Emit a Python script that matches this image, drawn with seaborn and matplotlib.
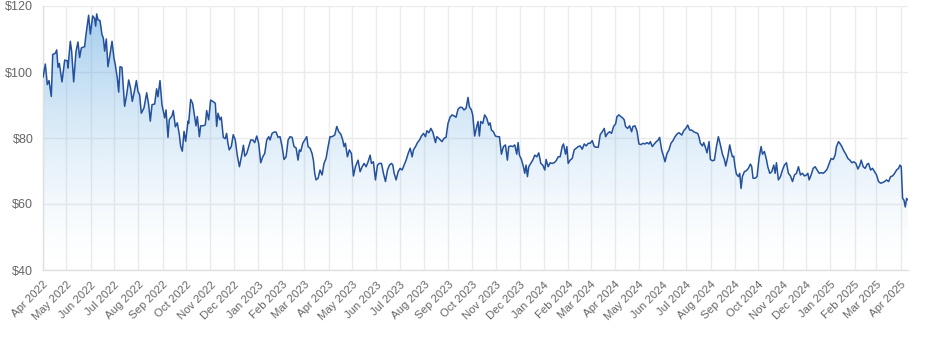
import numpy as np
import pandas as pd
import matplotlib
matplotlib.use("Agg")
import matplotlib.pyplot as plt
import matplotlib.dates as mdates
from matplotlib.ticker import FuncFormatter
import seaborn as sns

START = "2022-04-01"

# Days elapsed since START for each sampled close
days = [
    0, 3.0, 5.5, 7.7, 10.6, 12.4, 15.8, 17.5, 19.2, 20.9, 24.3, 27.7, 31.1, 31.9, 34.9, 36.6, 39.2, 42.2,
    44.7, 46.8, 49.0, 53.2, 54.9, 58.3, 60.5, 63.5, 66.0, 67.3, 68.6, 70.3, 72.8, 75.4, 77.1, 78.8, 80.9,
    83.0, 85.6, 88.2, 90.7, 92.4, 95.0, 96.7, 98.4, 100.9, 104.3, 106.9, 109.5, 112.0, 114.1, 116.7, 119.3,
    121.4, 123.5, 125.6, 129.0, 132.5, 135.0, 137.1, 139.3, 142.7, 145.2, 146.9, 149.5, 152.0, 155.5, 157.2,
    159.7, 161.4, 164.8, 166.5, 169.1, 171.6, 174.2, 175.9, 178.0, 180.2, 182.3, 185.3,
    186.1, 188.7, 191.2, 193.8, 195.5, 197.2, 199.8, 201.5, 204.9, 207.4, 209.1, 211.7, 214.2, 217.6, 220.2,
    221.9, 223.6, 226.1, 227.8, 230.4, 232.9, 234.6, 236.3, 238.0, 240.6, 243.1, 245.7, 248.2,
    251.0, 253.5, 256.1, 257.8, 260.3, 262.9, 265.4, 268.0, 270.5, 273.1, 275.6, 278.2, 280.8, 283.3, 285.9,
    288.4, 290.1, 292.7, 295.2, 297.8, 300.4, 302.9, 305.5, 308.0, 310.6, 313.2, 315.7, 318.3, 320.8, 323.4,
    325.9, 327.6, 329.3, 331.9, 334.5, 337.0, 338.7, 341.3, 343.8, 345.5, 347.2, 348.9, 351.5, 354.0, 356.6,
    359.1, 361.7, 364.3, 366.8, 369.4, 372.8, 375.4, 377.9, 380.5, 383.0, 384.7, 386.4, 389.0, 391.5, 394.1,
    396.7, 399.2, 402.6, 405.2, 407.8, 410.3, 412.9, 415.4, 418.0, 419.7, 422.2, 424.8, 427.4, 429.9, 432.5,
    435.0, 437.6, 440.2, 442.7, 445.3, 447.0, 448.7, 451.2, 453.8, 456.4, 458.9, 461.5, 464.0, 466.6, 469.2,
    471.7, 473.4, 476.0, 478.5, 481.1, 483.6, 486.2, 488.8, 490.5, 493.0, 495.6, 498.1, 501.5, 503.2, 505.8,
    509.8, 512.4, 515.0, 517.5, 520.1, 522.6, 525.2, 527.8, 530.3, 532.9, 535.4, 538.0, 540.6, 543.1, 544.8,
    547.4, 549.1, 551.6, 554.2, 555.9, 557.6, 559.3, 561.9, 564.4, 567.0, 569.6, 571.3, 573.0, 575.5, 578.1,
    580.6, 583.2, 585.8, 588.3, 590.9, 593.4, 595.1, 597.7, 600.3, 602.8, 605.4, 607.1, 608.8, 611.3, 613.9,
    615.6, 617.3, 619.0, 620.7, 623.3, 625.8, 628.4, 631.0, 633.5, 636.1, 638.6, 641.2, 642.9, 645.5, 648.0,
    650.6, 653.1, 655.7, 658.3, 660.8, 663.4, 665.1, 667.7, 669.4, 671.1, 673.6, 676.2, 678.8, 681.3, 683.9,
    686.4, 689.0, 691.6, 694.1, 696.7, 699.2, 701.8, 704.4, 706.9, 709.5, 712.0, 714.6, 717.2, 718.9, 721.4,
    724.0, 726.5, 729.1, 731.7, 733.4, 735.9, 738.5, 741.0, 742.7, 744.4, 747.0, 749.6, 752.1, 753.8, 756.4,
    758.9, 761.5, 764.1, 766.6, 769.2, 771.7, 774.3, 776.0, 778.6, 781.1, 783.7, 786.2, 787.9, 790.5, 793.1,
    794.8, 797.3, 799.9, 802.4, 805.0, 807.6, 810.1, 812.7,
    816.2, 818.7, 821.3, 823.8, 826.4, 829.0, 831.5, 834.1, 836.6, 838.3, 840.0, 842.6, 844.3, 846.8, 848.5,
    851.1, 852.8, 855.4, 857.9, 860.5, 863.0, 865.6, 868.2, 870.7, 872.4, 875.0, 877.5, 879.2, 880.9, 882.6,
    884.3, 886.0, 888.6, 890.3, 892.0, 893.7, 896.2, 898.8, 901.3, 903.9, 905.6, 907.3, 909.9, 912.4, 915.0,
    917.6, 919.3, 921.8, 924.4, 926.1, 928.7, 931.2, 933.8, 935.5, 937.2, 939.7, 942.3, 944.9, 947.4, 950.0,
    952.5, 955.1, 957.7, 960.2, 962.8, 965.3, 967.9, 970.5, 973.0, 975.6, 977.3, 979.0, 981.5, 984.1, 986.6,
    989.2, 991.8, 994.3, 996.9, 999.4, 1002.0, 1004.6, 1007.1, 1009.7, 1012.2, 1013.9, 1016.5, 1018.2, 1020.8,
    1023.3, 1025.9, 1028.5, 1031.0, 1033.6, 1036.1, 1038.7, 1041.3, 1043.8, 1045.5, 1048.1, 1050.6, 1053.2,
    1054.9, 1057.5, 1060.0, 1062.6, 1065.1, 1067.7, 1070.3, 1072.8, 1075.4, 1077.9, 1080.5, 1083.1, 1085.6,
    1088.2, 1090.7, 1093.3, 1095.0, 1096.7, 1098.4, 1100.1, 1101.8, 1103.5, 1105.2,
]

# Closing price in USD
prices = [
    98.4, 102.4, 96.2, 97.4, 92.6, 105.3, 105.7, 106.7, 101.4, 102.6, 97.0, 103.6, 103.4, 101.2, 109.3, 106.3, 97.0, 106.3,
    109.1, 104.4, 107.3, 107.7, 111.3, 117.2, 111.5, 117.0, 116.2, 113.9, 117.6, 115.8, 115.6, 111.3, 110.3, 106.3, 110.0,
    101.6, 105.3, 109.3, 104.2, 102.2, 98.0, 93.9, 101.6, 101.4, 89.6, 93.1, 97.6, 95.0, 91.1, 94.1, 97.4,
    94.1, 93.1, 87.5, 89.1, 93.7, 90.1, 85.1, 90.1, 90.3, 94.9, 92.5, 97.4, 90.1, 86.1, 88.5,
    80.2, 85.6, 86.7, 88.3, 83.4, 84.6, 81.0, 77.5, 76.0, 82.0, 79.0, 85.1,
    84.4, 91.7, 90.5, 86.5, 83.7, 86.5, 80.4, 83.7, 83.7, 84.0, 88.3, 85.5, 91.5, 91.0, 90.5,
    83.5, 87.5, 85.5, 86.3, 80.2, 79.8, 81.4, 78.4, 76.4, 77.4, 81.0, 79.4, 74.8,
    71.3, 74.3, 77.8, 74.5, 75.3, 77.4, 79.4, 79.4, 78.6, 80.6, 78.4, 72.5, 74.3, 75.3, 79.4,
    80.4, 79.4, 81.4, 81.8, 81.8, 80.2, 80.4, 77.4, 73.5, 74.3, 79.4, 80.4, 80.2, 77.4, 77.0,
    73.3, 76.4, 75.9, 78.4, 79.4, 80.4, 77.4, 76.9, 75.3, 73.3, 69.3, 67.3, 67.8, 70.3, 68.8,
    72.3, 73.8, 77.4, 80.4, 80.4, 80.9, 83.5, 81.9, 81.2, 79.4, 77.4, 78.4, 74.3, 76.4, 75.3,
    68.5, 71.3, 73.3, 69.8, 71.3, 72.3, 71.3, 72.8, 74.8, 72.3, 72.8, 67.3, 71.8, 72.3, 72.3,
    69.3, 66.8, 70.3, 71.8, 72.3, 71.8, 69.3, 67.3, 69.8, 70.8, 70.3, 71.8, 73.3, 75.3, 76.9,
    74.3, 76.4, 77.4, 78.6, 79.4, 80.6, 81.4, 80.4, 82.2, 81.6, 82.9, 81.8, 78.6, 80.4, 79.9,
    78.9, 79.9, 80.2, 84.4, 86.3, 87.0, 86.7, 86.3, 88.7, 89.3, 89.3, 88.5, 89.0, 92.3, 89.5,
    88.5, 87.0, 80.6, 83.5, 85.0, 80.6, 85.0, 84.4, 87.0, 86.0, 83.9, 84.6, 82.4, 81.9, 80.6,
    80.4, 80.4, 75.1, 77.4, 77.9, 73.3, 77.4, 77.6, 77.4, 77.9, 75.1, 78.6, 74.8, 73.5, 71.3,
    69.3, 71.8, 68.3, 71.3, 72.3, 73.3, 74.8, 74.3, 75.5, 72.3, 71.8, 70.3, 73.5, 71.3, 72.5,
    72.3, 72.5, 73.1, 74.3, 74.3, 77.4, 78.2, 75.1, 77.4, 72.3, 73.3, 73.8, 76.4, 76.9, 77.4,
    77.6, 76.6, 78.2, 77.6, 78.4, 78.4, 79.2, 77.4, 77.2, 77.2, 81.0, 81.9, 82.9, 80.4, 81.4,
    81.9, 81.4, 83.5, 84.3, 86.5, 87.0, 86.5, 86.0, 85.5, 83.5, 82.9, 83.7, 81.9, 83.5, 83.7,
    82.2, 78.2, 78.0, 78.4, 78.2, 78.6, 78.2, 78.9, 77.4, 78.2, 78.9, 79.4, 80.2, 76.4, 74.3,
    72.8, 75.3, 76.4, 78.4, 79.2, 80.4, 81.2, 81.6,
    80.9, 82.2, 82.9, 83.9, 82.4, 82.4, 81.9, 81.6, 81.4, 80.2, 78.4, 77.6, 78.6, 76.9, 75.5,
    78.9, 73.5, 73.1, 73.3, 77.4, 80.4, 77.9, 75.1, 73.5, 71.5, 74.3, 77.9, 75.9, 74.3, 74.5,
    71.3, 69.1, 68.3, 69.3, 64.7, 68.3, 69.8, 70.1, 70.8, 72.1, 71.3, 67.8, 67.8, 68.3, 73.9,
    77.4, 75.1, 75.9, 73.5, 71.3, 69.3, 69.8, 71.8, 69.3, 72.5, 67.3, 68.3, 70.3, 71.8, 72.5,
    69.3, 68.5, 66.8, 68.8, 69.3, 71.3, 68.8, 69.3, 68.5, 68.8, 69.3, 67.3, 68.8, 70.8, 71.3,
    70.3, 69.3, 69.5, 69.3, 69.8, 70.6, 72.3, 73.8, 73.5, 74.8, 77.4, 78.9, 78.4, 77.4,
    76.1, 75.1, 73.8, 73.3, 72.5, 72.8, 72.3, 70.6, 71.8, 73.3, 71.3, 70.8, 72.1,
    72.3, 70.3, 70.8, 69.8, 68.8, 66.8, 66.3, 66.5, 66.8, 67.3, 66.8, 68.3, 68.5,
    69.3, 70.3, 70.8, 71.8, 71.3, 61.7, 61.2, 59.1, 61.7, 61.2,
]

y_ticks = [40, 60, 80, 100, 120]
x_span_days = 1105.3

start = pd.Timestamp(START)
df = pd.DataFrame({
    "date": start + pd.to_timedelta(days, unit="D"),
    "price": prices,
})

sns.set_theme(style="whitegrid")
plt.rcParams["font.family"] = ["Liberation Sans", "DejaVu Sans"]

W, H = 927, 341
fig = plt.figure(figsize=(W / 100, H / 100), dpi=100)
ax = fig.add_axes([43 / W, (H - 270) / H, 865 / W, 264 / H])

xmin = start
xmax = start + pd.Timedelta(days=x_span_days)
ymin, ymax = y_ticks[0], y_ticks[-1]

# Area under the price line, painted with a vertical blue-to-white gradient
area = ax.fill_between(df["date"], df["price"], ymin, facecolor="none", linewidth=0)
t = np.linspace(0, 1, 256)[:, None]
grad = np.zeros((256, 1, 4))
grad[..., 0] = 100 / 255
grad[..., 1] = 170 / 255
grad[..., 2] = 225 / 255
grad[..., 3] = 0.6 * t ** 1.5
img = ax.imshow(grad, extent=[mdates.date2num(xmin), mdates.date2num(xmax), ymin, ymax],
                aspect="auto", origin="lower", zorder=1, interpolation="bilinear")
img.set_clip_path(area.get_paths()[0], ax.transData)

sns.lineplot(data=df, x="date", y="price", ax=ax, color="#24509c", linewidth=1.1, zorder=3)

ax.set_xlim(xmin, xmax)
ax.set_ylim(ymin, ymax)
ax.set_yticks(y_ticks)
ax.yaxis.set_major_formatter(FuncFormatter(lambda v, _: f"${v:.0f}"))
ax.xaxis.set_major_locator(mdates.MonthLocator())
ax.xaxis.set_major_formatter(mdates.DateFormatter("%b %Y"))
ax.set_xlabel("")
ax.set_ylabel("")

ax.set_axisbelow(True)
ax.grid(True, color="#ebebeb", linewidth=1)
for side in ("top", "right"):
    ax.spines[side].set_visible(False)
for side in ("left", "bottom"):
    ax.spines[side].set_color("#e0e0e0")
    ax.spines[side].set_linewidth(1)

ax.tick_params(axis="x", length=5, width=1, color="#e6e6e6", labelsize=8.2, labelcolor="#666666", pad=2)
ax.tick_params(axis="y", length=5, width=1, color="#e6e6e6", labelsize=9, labelcolor="#666666", pad=2)
plt.setp(ax.get_xticklabels(), rotation=45, ha="right", rotation_mode="anchor")

fig.savefig("out.png", dpi=100, facecolor="white")
